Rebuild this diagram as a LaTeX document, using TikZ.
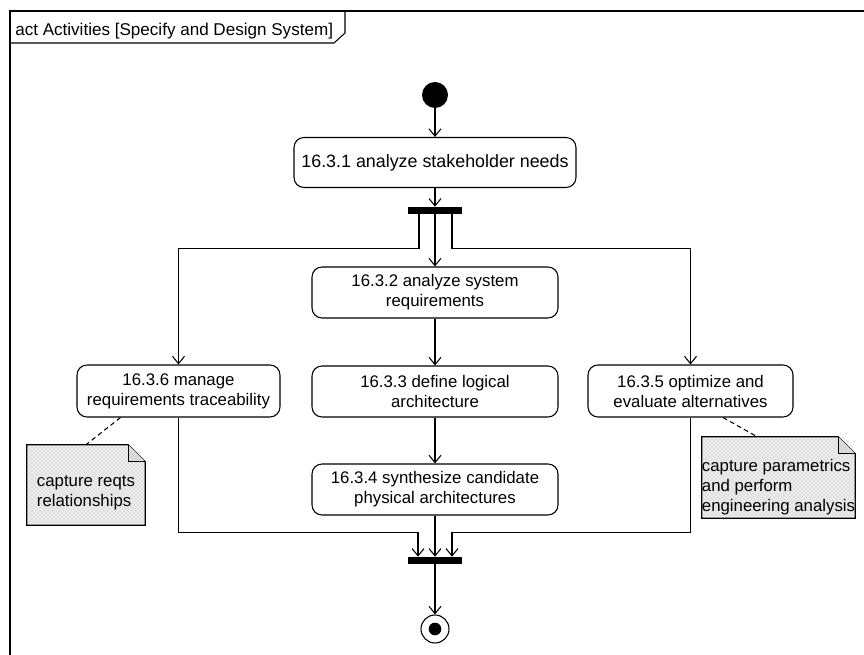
\documentclass[tikz,border=0pt]{standalone}
\usepackage{fontspec}
\setmainfont{Liberation Sans}
\usetikzlibrary{arrows.meta,calc,patterns}
\begin{document}
\begin{tikzpicture}[x=0.75pt,y=-0.75pt,
  every node/.style={font=\fontsize{12.6}{15}\selectfont},
  action/.style={draw, rounded corners=7.5pt, align=center, inner sep=0pt, line width=0.8pt},
  wide/.style={action, minimum width=184.5pt, minimum height=38.25pt},
  side/.style={action, minimum width=153pt, minimum height=39pt},
  bar/.style={fill=black, inner sep=0pt, minimum width=40.5pt, minimum height=5.25pt},
  flow/.style={line width=0.8pt, -{Straight Barb[length=5.5pt,width=9pt,line width=0.8pt]}},
  frameline/.style={line width=0.8pt},
  anchorline/.style={line width=0.8pt, dash pattern=on 3.5pt off 2.5pt},
  notebox/.style={inner sep=0pt},
  notetext/.style={inner sep=0pt, align=left},
  noteshape/.style={draw, line width=0.8pt, preaction={fill=gray!14}, pattern=crosshatch dots, pattern color=gray!60},
]
\useasboundingbox (0,0) rectangle (864,655);

% activity frame with its name tab
\draw[frameline] (10,660) -- (10,11) -- (870,11);
\node[anchor=west, inner sep=0pt, font=\fontsize{12.8}{15}\selectfont] (title) at (15,31) {act Activities [Specify and Design System]};
\draw[frameline] (10,43) -- (334,43) -- (345,33) -- (345,11);

% control nodes
\node[circle, fill=black, minimum size=19.5pt, inner sep=0pt] (start) at (435,95) {};
\node[bar] (fork) at (435,210.5) {};
\node[bar] (join) at (435,560.5) {};
\node[circle, draw, line width=0.8pt, minimum size=21pt, inner sep=0pt] (final) at (435,629) {};
\node[circle, fill=black, minimum size=9.5pt, inner sep=0pt] (finaldot) at (final.center) {};

% actions
\node[action, minimum width=211.5pt, minimum height=37.5pt, font=\fontsize{13.4}{15}\selectfont] (a1) at (435,162.5) {16.3.1 analyze stakeholder needs};
\node[wide] (a2) at (435,292.5) {16.3.2 analyze system\\requirements};
\node[wide] (a3) at (435,391.5) {16.3.3 define logical\\architecture};
\node[wide] (a4) at (435,489.5) {16.3.4 synthesize candidate\\physical architectures};
\node[side, minimum width=152.25pt] (a6) at (178.5,391) {16.3.6 manage\\requirements traceability};
\node[side, minimum width=153.75pt] (a5) at (690.5,391) {16.3.5 optimize and\\evaluate alternatives};

% comment notes with folded corner
\node[notebox, minimum width=88.5pt, minimum height=60pt] (n1) at (86,485) {};
\draw[noteshape] (n1.north west) -- ([xshift=-12.75pt]n1.north east) -- ([yshift=-12.75pt]n1.north east)
  -- (n1.south east) -- (n1.south west) -- cycle;
\draw[line width=0.8pt, fill=gray!30] ([xshift=-12.75pt]n1.north east) -- ([xshift=-12.75pt,yshift=-12.75pt]n1.north east) -- ([yshift=-12.75pt]n1.north east);
\node[notetext] (n1t) at ([yshift=-6pt]n1.center) {capture reqts\\relationships};

\node[notebox, minimum width=114.75pt, minimum height=60.75pt] (n2) at (778.5,477.5) {};
\draw[noteshape] (n2.north west) -- ([xshift=-12.75pt]n2.north east) -- ([yshift=-12.75pt]n2.north east)
  -- (n2.south east) -- (n2.south west) -- cycle;
\draw[line width=0.8pt, fill=gray!30] ([xshift=-12.75pt]n2.north east) -- ([xshift=-12.75pt,yshift=-12.75pt]n2.north east) -- ([yshift=-12.75pt]n2.north east);
\node[notetext] (n2t) at ([yshift=-7.5pt]n2.center) {capture parametrics\\and perform\\engineering analysis};

% control flows
\draw[flow] (start) -- (a1);
\draw[flow] (a1) -- (fork);
\draw[flow] (fork.south) -- (a2.north);
\draw[flow] ([xshift=-12pt]fork.south) -- ++(0,34) -| (a6.north);
\draw[flow] ([xshift=12.75pt]fork.south) -- ++(0,34) -| (a5.north);
\draw[flow] (a2) -- (a3);
\draw[flow] (a3) -- (a4);
\draw[flow] (a4.south) -- (join.north);
\draw[flow] (a6.south) -- ++(0,115) -| ([xshift=-12.75pt]join.north);
\draw[flow] (a5.south) -- ++(0,115) -| ([xshift=12.75pt]join.north);
\draw[flow] (join) -- (final);

% note anchors
\draw[anchorline] ([xshift=-43.5pt]a6.south) -- (n1.north);
\draw[anchorline] ([xshift=24.4pt]a5.south) -- ([xshift=-16pt]n2.north);
\end{tikzpicture}
\end{document}
